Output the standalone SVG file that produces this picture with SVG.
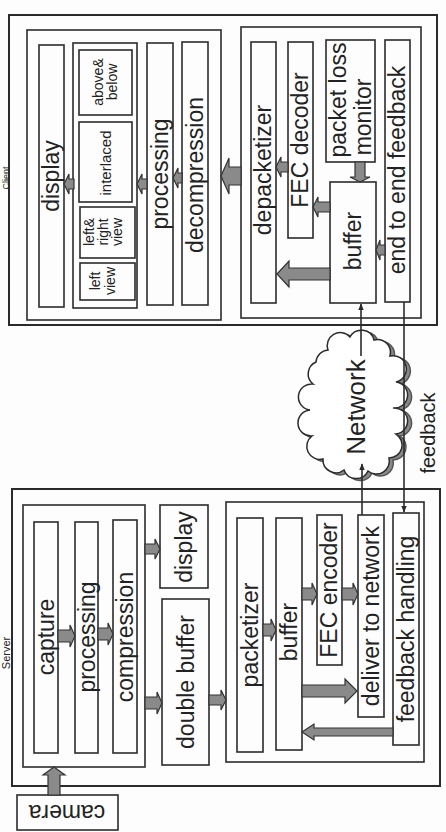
<svg xmlns="http://www.w3.org/2000/svg" width="446" height="832" viewBox="0 0 446 832">
<defs>
<style>
.bx{fill:none;stroke:#2b2b2b;stroke-width:1.6}
.ob{fill:none;stroke:#2b2b2b;stroke-width:2}
.t{font-family:"Liberation Sans",Arial,sans-serif;font-size:23px;fill:#222;text-anchor:middle}
.s{font-family:"Liberation Sans",Arial,sans-serif;font-size:14px;fill:#222;text-anchor:middle}
.ba{fill:#8a8a8a;stroke:#333;stroke-width:1.2}
.ln{stroke:#2b2b2b;stroke-width:1.6;fill:none}
</style>
<marker id="ah" viewBox="0 0 10 10" refX="9" refY="5" markerWidth="7" markerHeight="7" orient="auto-start-reverse" markerUnits="userSpaceOnUse">
<path d="M0,1 L10,5 L0,9 Z" fill="#2b2b2b"/>
</marker>
</defs>
<rect width="446" height="832" fill="#fdfdfd"/>

<!-- CLIENT -->
<g id="client">
<rect class="ob" x="9" y="15" width="428" height="310"/>
<text class="t" style="font-size:9px" transform="translate(0,178) rotate(-90)" y="8.8">Client</text>
</g>
<g id="client-display-group">
<rect class="bx" x="27" y="30" width="194" height="290"/>
</g>
<g id="client-display">
<rect class="bx" x="39" y="45" width="25" height="262"/>
<text class="t" transform="translate(51,176) rotate(-90)" y="8">display</text>
</g>
<g id="client-views">
<rect class="bx" x="73" y="43" width="64" height="265"/>
</g>
<g id="view-above-below">
<rect class="bx" x="79" y="50" width="53" height="65"/>
<text class="s" transform="translate(105,82) rotate(-90)"><tspan x="0" y="-2">above&amp;</tspan><tspan x="0" y="12">below</tspan></text>
</g>
<g id="view-interlaced">
<rect class="bx" x="79" y="122" width="53" height="80"/>
<text class="s" style="font-size:15px" transform="translate(105,163) rotate(-90)" y="6">interlaced</text>
</g>
<g id="view-left-right">
<rect class="bx" x="80" y="207" width="55" height="51"/>
<text class="s" transform="translate(107,232) rotate(-90)"><tspan x="0" y="-13">left&amp;</tspan><tspan x="0" y="1">right</tspan><tspan x="0" y="15">view</tspan></text>
</g>
<g id="view-left">
<rect class="bx" x="80" y="263" width="55" height="37"/>
<text class="s" transform="translate(107,281) rotate(-90)"><tspan x="0" y="-7">left</tspan><tspan x="0" y="8">view</tspan></text>
</g>
<g id="client-processing">
<rect class="bx" x="147" y="43" width="26" height="262"/>
<text class="t" transform="translate(160,174) rotate(-90)" y="8">processing</text>
</g>
<g id="client-decompression">
<rect class="bx" x="182" y="42" width="26" height="263"/>
<text class="t" transform="translate(195,175) rotate(-90)" y="8">decompression</text>
</g>
<g id="client-network-group">
<rect class="bx" x="241" y="27" width="180" height="291"/>
</g>
<g id="depacketizer">
<rect class="bx" x="251" y="42" width="25" height="261"/>
<text class="t" transform="translate(263,170) rotate(-90)" y="8">depacketizer</text>
</g>
<g id="fec-decoder">
<rect class="bx" x="288" y="42" width="25" height="196"/>
<text class="t" transform="translate(300,140) rotate(-90)" y="8">FEC decoder</text>
</g>
<g id="packet-loss-monitor">
<rect class="bx" x="326" y="40" width="49" height="122"/>
<text class="t" transform="translate(350,100) rotate(-90)" y="-4">packet loss</text>
<text class="t" transform="translate(350,117) rotate(-90)" y="21">monitor</text>
</g>
<g id="client-buffer">
<rect class="bx" x="330" y="182" width="46" height="121"/>
<text class="t" transform="translate(353,241) rotate(-90)" y="8">buffer</text>
</g>
<g id="end-to-end-feedback">
<rect class="bx" x="385" y="40" width="25" height="262"/>
<text class="t" transform="translate(397,170) rotate(-90)" y="8">end to end feedback</text>
</g>

<!-- NETWORK -->
<g id="network">
<path transform="translate(4,2)" fill="#888" stroke="#555" stroke-width="1.5" d="M328,350 A13,13 0 0 1 350,337 A13,13 0 0 1 374,340 A13,13 0 0 1 390,356 A13,13 0 0 1 396,382 A13,13 0 0 1 393,408 A13,13 0 0 1 396,434 A13,13 0 0 1 389,458 A13,13 0 0 1 368,471 A13,13 0 0 1 344,470 A13,13 0 0 1 323,459 A13,13 0 0 1 312,436 A13,13 0 0 1 310,410 A13,13 0 0 1 313,384 A13,13 0 0 1 316,362 A13,13 0 0 1 328,350 Z"/>
<path fill="#fff" stroke="#2b2b2b" stroke-width="1.5" d="M328,350 A13,13 0 0 1 350,337 A13,13 0 0 1 374,340 A13,13 0 0 1 390,356 A13,13 0 0 1 396,382 A13,13 0 0 1 393,408 A13,13 0 0 1 396,434 A13,13 0 0 1 389,458 A13,13 0 0 1 368,471 A13,13 0 0 1 344,470 A13,13 0 0 1 323,459 A13,13 0 0 1 312,436 A13,13 0 0 1 310,410 A13,13 0 0 1 313,384 A13,13 0 0 1 316,362 A13,13 0 0 1 328,350 Z"/>
<text class="t" style="font-size:26px" transform="translate(356,407) rotate(-90)" y="9">Network</text>
</g>
<text class="t" style="font-size:20px" transform="translate(428,433) rotate(-90)" y="7">feedback</text>

<!-- SERVER -->
<g id="server">
<rect class="ob" x="12" y="489" width="428" height="297"/>
<text class="t" style="font-size:11px" transform="translate(0,653) rotate(-90)" y="10.3">Server</text>
</g>
<g id="camera">
<rect class="bx" x="17" y="795" width="101" height="35"/>
<text class="t" transform="translate(67,812) rotate(180)" y="7">camera</text>
</g>
<g id="server-capture-group">
<rect class="bx" x="23" y="505" width="122" height="262"/>
</g>
<g id="capture">
<rect class="bx" x="34" y="522" width="24" height="231"/>
<text class="t" transform="translate(46,637) rotate(-90)" y="8">capture</text>
</g>
<g id="server-processing">
<rect class="bx" x="75" y="522" width="23" height="231"/>
<text class="t" transform="translate(87,637) rotate(-90)" y="8">processing</text>
</g>
<g id="compression">
<rect class="bx" x="113" y="520" width="24" height="233"/>
<text class="t" transform="translate(125,637) rotate(-90)" y="8">compression</text>
</g>
<g id="server-display">
<rect class="bx" x="160" y="505" width="48" height="83"/>
<text class="t" transform="translate(184,547) rotate(-90)" y="8">display</text>
</g>
<g id="double-buffer">
<rect class="bx" x="162" y="599" width="47" height="166"/>
<text class="t" transform="translate(186,682) rotate(-90)" y="8">double buffer</text>
</g>
<g id="server-network-group">
<rect class="bx" x="226" y="502" width="198" height="260"/>
</g>
<g id="packetizer">
<rect class="bx" x="237" y="518" width="26" height="234"/>
<text class="t" transform="translate(250,635) rotate(-90)" y="8">packetizer</text>
</g>
<g id="server-buffer">
<rect class="bx" x="276" y="518" width="26" height="232"/>
<text class="t" transform="translate(289,632) rotate(-90)" y="8">buffer</text>
</g>
<g id="fec-encoder">
<rect class="bx" x="317" y="515" width="25" height="150"/>
<text class="t" transform="translate(329,590) rotate(-90)" y="8">FEC encoder</text>
</g>
<g id="deliver-to-network">
<rect class="bx" x="358" y="515" width="26" height="202"/>
<text class="t" transform="translate(371,616) rotate(-90)" y="8">deliver to network</text>
</g>
<g id="feedback-handling">
<rect class="bx" x="393" y="513" width="26" height="232"/>
<text class="t" transform="translate(406,629) rotate(-90)" y="8">feedback handling</text>
</g>

<!-- CONNECTORS -->
<g id="connectors">
<polygon class="ba" points="64,184 69,174 69,179 74,179 74,189 69,189 69,194"/>
<polygon class="ba" points="137,184 142,174 142,179 147,179 147,189 142,189 142,194"/>
<polygon class="ba" points="173,178 178,168 178,173 182,173 182,183 178,183 178,188"/>
<polygon class="ba" points="221,176 229,158 229,167 241,167 241,185 229,185 229,194"/>
<polygon class="ba" points="276,167 281,157 281,162 288,162 288,172 281,172 281,177"/>
<polygon class="ba" points="313,207 318,197 318,202 330,202 330,212 318,212 318,217"/>
<polygon class="ba" points="360,182 350,177 355,177 355,162 365,162 365,177 370,177"/>
<polygon class="ba" points="376,250 380,240 380,245 385,245 385,255 380,255 380,260"/>
<polygon class="ba" points="277,274 289,261 289,268 330,268 330,280 289,280 289,287"/>
<polygon class="ba" points="75,636 70,625 70,630 58,630 58,642 70,642 70,647"/>
<polygon class="ba" points="113,634 108,623 108,628 98,628 98,640 108,640 108,645"/>
<polygon class="ba" points="160,549 155,539 155,544 145,544 145,554 155,554 155,559"/>
<polygon class="ba" points="162,703 157,692 157,697 145,697 145,709 157,709 157,714"/>
<polygon class="ba" points="226,700 221,690 221,695 209,695 209,705 221,705 221,710"/>
<polygon class="ba" points="276,630 271,619 271,624 263,624 263,636 271,636 271,641"/>
<polygon class="ba" points="317,594 312,583 312,588 302,588 302,600 312,600 312,605"/>
<polygon class="ba" points="358,594 353,583 353,588 342,588 342,600 353,600 353,605"/>
<polygon class="ba" points="357,691 345,679 345,685 302,685 302,697 345,697 345,703"/>
<polygon class="ba" points="302,732 314,724 314,728 393,728 393,736 314,736 314,740"/>
<polygon class="ba" points="54,767 65,775 60,775 60,795 48,795 48,775 43,775"/>
<line class="ln" x1="362" y1="515" x2="362" y2="464" marker-end="url(#ah)"/>
<line class="ln" x1="361" y1="356" x2="361" y2="304" marker-end="url(#ah)"/>
<line class="ln" x1="404" y1="302" x2="404" y2="512" marker-end="url(#ah)"/>
</g>
</svg>
